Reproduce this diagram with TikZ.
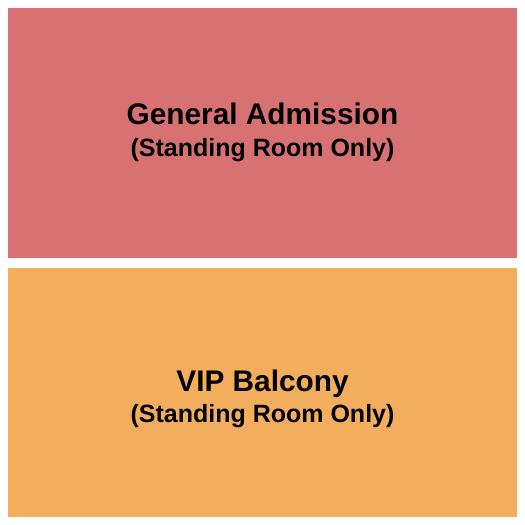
\documentclass[tikz,border=0pt]{standalone}
\usepackage{fontspec}
\setmainfont{Liberation Sans}
\usetikzlibrary{positioning}

\definecolor{gacolor}{RGB}{216,114,114}
\definecolor{vipcolor}{RGB}{243,174,93}

\begin{document}
\begin{tikzpicture}[x=1pt,y=-1pt,
		section/.style={draw=none,rectangle,minimum width=509pt,anchor=north west,inner sep=0pt},
		title/.style={anchor=base,inner sep=0pt,font=\bfseries\fontsize{29.8}{31}\selectfont},
		subtitle/.style={anchor=base,inner sep=0pt,font=\bfseries\fontsize{25}{27}\selectfont}]
			\useasboundingbox (0,0) rectangle (525,525);
			\node[section,fill=gacolor,minimum height=249.5pt] (ga) at (8,8) {};
			\node[section,fill=vipcolor,minimum height=249pt] (vip) at (8,268) {};
			\node[title] (ga_title) at (262.5,124) {General Admission};
			\node[subtitle] (ga_sub) at (262.5,156) {(Standing Room Only)};
			\node[title] (vip_title) at (262.5,391) {VIP Balcony};
			\node[subtitle] (vip_sub) at (262.5,422) {(Standing Room Only)};
		\end{tikzpicture}
\end{document}
